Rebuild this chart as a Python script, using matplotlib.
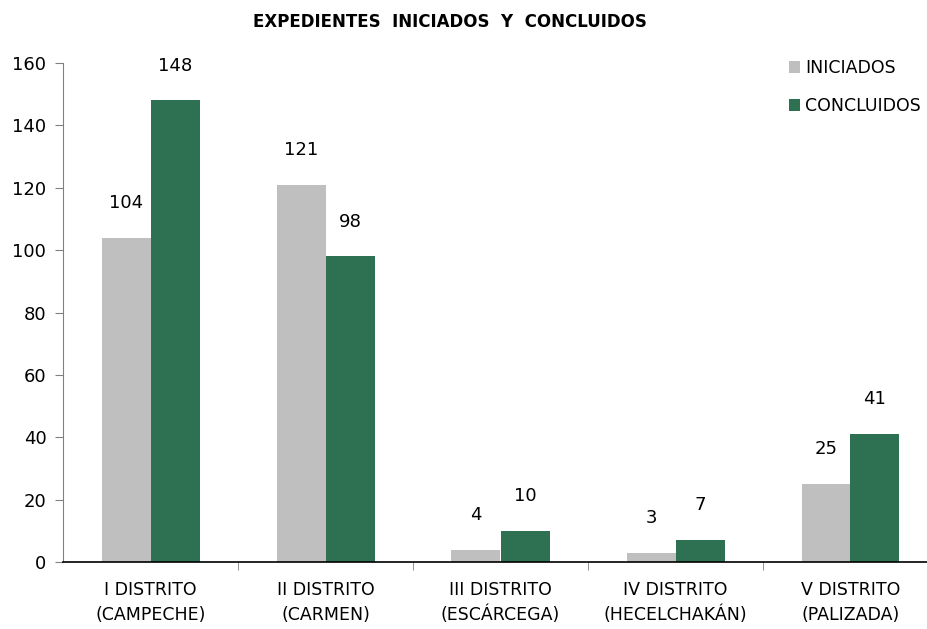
import numpy as np
import matplotlib.pyplot as plt

#===========================================================
#               data
#===========================================================
distritos = ['I DISTRITO\n(CAMPECHE)', 'II DISTRITO\n(CARMEN)', 'III DISTRITO\n(ESCÁRCEGA)',
             'IV DISTRITO\n(HECELCHAKÁN)', 'V DISTRITO\n(PALIZADA)']
iniciados = [104, 121, 4, 3, 25]
concluidos = [148, 98, 10, 7, 41]

c_ini = '#BFBFBF'
c_con = '#2E7152'

#===========================================================
#               plot
#===========================================================
plt.rcParams['font.family'] = ['DejaVu Sans']
fig = plt.figure(figsize=(9.28, 6.29), dpi=100)
ax = fig.add_axes([63/928, 1-562/629, 875/928, 499/629])

x = np.arange(len(distritos))
w = 0.28
b1 = ax.bar(x - w/2, iniciados, w, color=c_ini, label='INICIADOS')
b2 = ax.bar(x + w/2, concluidos, w, color=c_con, label='CONCLUIDOS')

for bars in (b1, b2):
    for b in bars:
        ax.annotate(str(int(b.get_height())), (b.get_x() + b.get_width()/2, b.get_height()),
                    xytext=(0, 25), textcoords='offset points', ha='center', va='center',
                    fontsize=13, color='#000000')

ax.set_xlim(-0.5, len(distritos) - 0.5)
ax.set_ylim(0, 160)
ax.set_yticks(np.arange(0, 161, 20))
ax.set_xticks(x)
ax.set_xticklabels(distritos, fontsize=12.5, linespacing=1.45)
ax.set_xticks(np.arange(0.5, len(distritos) - 0.5, 1), minor=True)
ax.tick_params(axis='x', which='major', length=0, pad=14)
ax.tick_params(axis='x', which='minor', length=6, color='#808080')
ax.tick_params(axis='y', labelsize=13, length=6, color='#808080', pad=6)
for s in ['top', 'right']:
    ax.spines[s].set_visible(False)
ax.spines['left'].set_color('#808080')
ax.spines['bottom'].set_color('#000000')
ax.spines['bottom'].set_linewidth(1.2)

fig.text(450/928, 1-22/629, 'EXPEDIENTES  INICIADOS  Y  CONCLUIDOS', ha='center', va='center',
         fontsize=12, fontweight='bold')

ax.legend(loc='upper left', bbox_to_anchor=(782/928, 1-52/629), bbox_transform=fig.transFigure,
          frameon=False, fontsize=12.5, handlelength=0.65, handleheight=0.65, handletextpad=0.3,
          labelspacing=1.15, borderaxespad=0)

fig.savefig('out.png', dpi=100)
